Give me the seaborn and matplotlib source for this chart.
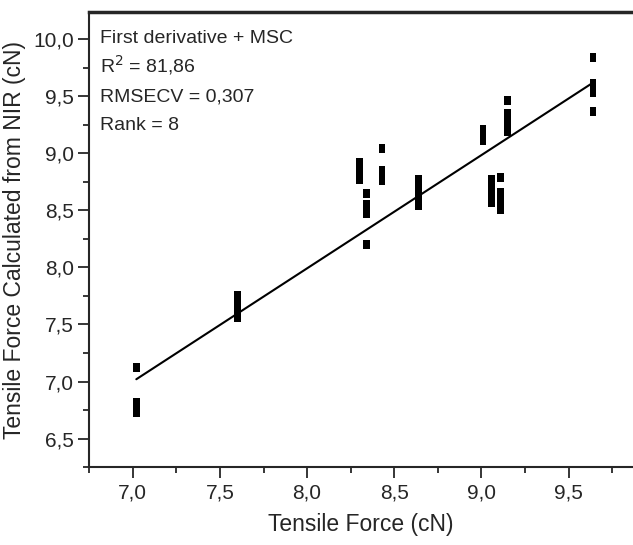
import numpy as np
import pandas as pd
import seaborn as sns
import matplotlib.pyplot as plt
from matplotlib.ticker import FuncFormatter, MultipleLocator

# reference tensile force (x) and NIR-predicted values (y), grouped per sample
tensile_7_02 = [7.12, 6.73, 6.76, 6.79, 6.82]
tensile_7_60 = [7.56, 7.60, 7.64, 7.68, 7.72, 7.75]
tensile_8_30 = [8.77, 8.80, 8.84, 8.88, 8.92]
tensile_8_34 = [8.65, 8.47, 8.51, 8.55, 8.20]
tensile_8_43 = [9.04, 8.76, 8.80, 8.85]
tensile_8_64 = [8.54, 8.58, 8.62, 8.66, 8.70, 8.74, 8.77]
tensile_9_01 = [9.11, 9.15, 9.19, 9.21]
tensile_9_06 = [8.57, 8.61, 8.65, 8.69, 8.73, 8.77]
tensile_9_11 = [8.79, 8.66, 8.62, 8.58, 8.51]
tensile_9_15 = [9.46, 9.35, 9.31, 9.27, 9.23, 9.19]
tensile_9_64 = [9.84, 9.61, 9.57, 9.53, 9.37]

groups = {7.02: tensile_7_02, 7.60: tensile_7_60, 8.30: tensile_8_30,
          8.34: tensile_8_34, 8.43: tensile_8_43, 8.64: tensile_8_64,
          9.01: tensile_9_01, 9.06: tensile_9_06, 9.11: tensile_9_11,
          9.15: tensile_9_15, 9.64: tensile_9_64}

# fitted line end points
fit_x = [7.02, 9.64]
fit_y = [7.02, 9.62]

info_text = ["First derivative + MSC", "R$^2$ = 81,86", "RMSECV = 0,307", "Rank = 8"]

df = pd.DataFrame([(x, y) for x, ys in groups.items() for y in ys],
                  columns=['measured', 'predicted'])

sns.set_style('ticks')
plt.rcParams['font.family'] = ['Liberation Sans', 'DejaVu Sans']

fig = plt.figure(figsize=(6.33, 5.45), dpi=100)
ax = fig.add_axes([0.141, 0.143, 0.859, 0.835])

rect = [(-0.75, -1), (0.75, -1), (0.75, 1), (-0.75, 1), (-0.75, -1)]
sns.scatterplot(data=df, x='measured', y='predicted', marker=rect, s=42,
                color='black', edgecolor='none', ax=ax)
sns.lineplot(x=fit_x, y=fit_y, color='black', linewidth=1.5, ax=ax)

ax.set_xlim(6.75, 9.87)
ax.set_ylim(6.25, 10.24)
ax.xaxis.set_major_locator(MultipleLocator(0.5))
ax.xaxis.set_minor_locator(MultipleLocator(0.25))
ax.yaxis.set_major_locator(MultipleLocator(0.5))
ax.yaxis.set_minor_locator(MultipleLocator(0.25))
comma = FuncFormatter(lambda v, p: f"{v:.1f}".replace('.', ','))
ax.xaxis.set_major_formatter(comma)
ax.yaxis.set_major_formatter(comma)
ax.tick_params(which='major', length=8, width=1.3, labelsize=15, direction='out')
ax.tick_params(which='minor', length=4, width=1.3, direction='out')
ax.tick_params(axis='y', pad=3)

for side in ['left', 'bottom']:
    ax.spines[side].set_linewidth(1.5)
ax.spines['top'].set_linewidth(2.5)
ax.spines['right'].set_visible(False)

ax.set_xlabel('Tensile Force (cN)', fontsize=16.5, labelpad=8)
ax.set_ylabel('Tensile Force Calculated from NIR (cN)', fontsize=16.5, labelpad=5)

for i, line in enumerate(info_text):
    ax.text(0.02, 0.932 - i * 0.064, line, transform=ax.transAxes,
            fontsize=14, va='baseline', ha='left')

fig.savefig('out.png', dpi=100)
